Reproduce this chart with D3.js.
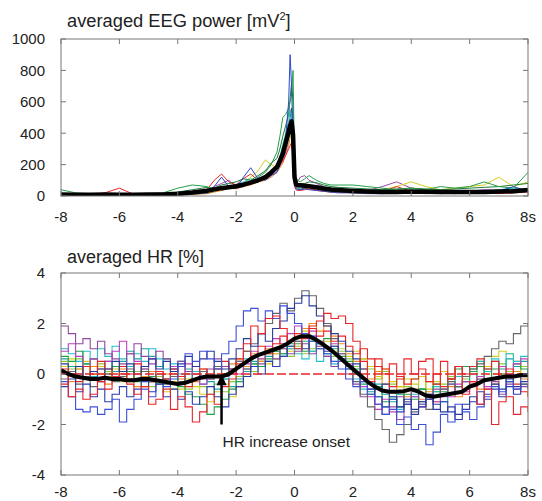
<!DOCTYPE html>
<html>
<head>
<meta charset="utf-8">
<script src="https://cdn.jsdelivr.net/npm/d3@7"></script>
<style>
  body { margin: 0; background: #fff; }
  svg { display: block; font-family: "Liberation Sans", Arial, Helvetica, sans-serif; }
</style>
</head>
<body>
<svg id="chart" width="542" height="501"></svg>
<script>
// ---------- top panel: averaged EEG power [mV^2] ----------
// sample times (s), denser around the spike
const eegTimes = [
  -8, -7.5, -7, -6.5, -6, -5.5, -5, -4.5, -4, -3.5,
  -3, -2.75, -2.5, -2.25, -2, -1.75, -1.5, -1.25, -1, -0.8,
  -0.6, -0.5, -0.4, -0.3, -0.2, -0.15, -0.1, -0.05, 0, 0.05,
  0.1, 0.2, 0.35, 0.5, 0.75, 1, 1.25, 1.5, 2, 2.5,
  3, 3.5, 4, 4.5, 5, 5.5, 6, 6.5, 7, 7.5,
  8
];
const eegMean = [
  10, 8, 8, 9, 8, 8, 9, 10, 14, 22,
  34, 42, 50, 56, 62, 72, 85, 100, 120, 150,
  185, 225, 270, 340, 410, 450, 475, 390, 120, 75,
  70, 68, 65, 62, 56, 48, 42, 38, 32, 28,
  26, 26, 28, 27, 25, 26, 25, 26, 28, 30,
  38
];
const eegBlue = [
  5, 6, 5, 6, 5, 6, 5, 8, 10, 15,
  20, 60, 120, 60, 50, 120, 180, 110, 100, 130,
  150, 200, 280, 380, 600, 900, 700, 350, 80, 50,
  40, 40, 45, 40, 35, 30, 25, 20, 20, 15,
  15, 20, 20, 15, 20, 15, 20, 20, 30, 60,
  30
];
const eegGreen = [
  40, 20, 15, 10, 8, 10, 15, 20, 50, 70,
  60, 40, 50, 60, 70, 60, 90, 120, 150, 200,
  280, 380, 500, 520, 560, 600, 650, 800, 200, 120,
  100, 90, 110, 130, 100, 80, 70, 70, 70, 60,
  50, 40, 50, 40, 60, 50, 60, 90, 60, 50,
  150
];
const eegRed = [
  5, 8, 6, 20, 50, 10, 6, 8, 10, 20,
  40, 100, 140, 90, 70, 110, 140, 100, 120, 150,
  180, 200, 220, 260, 300, 320, 340, 250, 60, 40,
  35, 35, 40, 45, 40, 30, 25, 25, 20, 20,
  25, 60, 30, 20, 15, 20, 15, 20, 15, 20,
  25
];
const eegYellow = [
  5, 5, 6, 5, 5, 6, 5, 6, 8, 12,
  20, 30, 40, 50, 60, 80, 120, 160, 230, 200,
  180, 220, 260, 300, 350, 380, 400, 300, 80, 60,
  55, 50, 55, 60, 50, 40, 35, 30, 30, 35,
  40, 60, 90, 60, 40, 50, 60, 70, 120, 60,
  90
];
const eegPurple = [
  6, 5, 6, 5, 6, 5, 6, 8, 10, 15,
  25, 60, 80, 100, 60, 70, 90, 100, 110, 130,
  160, 190, 230, 280, 350, 420, 480, 400, 100, 70,
  90, 120, 130, 100, 80, 60, 40, 35, 30, 35,
  60, 90, 50, 40, 30, 35, 30, 40, 35, 30,
  35
];
const eegCyan = [
  8, 6, 5, 6, 5, 6, 8, 10, 12, 20,
  30, 40, 60, 50, 70, 90, 110, 90, 120, 160,
  200, 250, 330, 400, 480, 550, 500, 300, 90, 60,
  55, 50, 60, 70, 60, 45, 40, 35, 30, 30,
  25, 30, 35, 30, 25, 30, 25, 30, 40, 50,
  40
];
const eegOrange = [
  5, 6, 5, 6, 5, 6, 5, 6, 8, 10,
  15, 25, 35, 50, 45, 60, 70, 90, 100, 120,
  150, 180, 210, 260, 320, 380, 420, 330, 70, 45,
  40, 40, 50, 45, 35, 30, 25, 25, 25, 25,
  20, 25, 30, 25, 20, 25, 20, 25, 30, 35,
  30
];
const eegNavy = [
  6, 5, 6, 5, 6, 5, 6, 6, 8, 12,
  18, 30, 45, 55, 50, 65, 85, 100, 110, 140,
  170, 200, 250, 320, 420, 500, 560, 400, 90, 55,
  50, 45, 50, 55, 45, 35, 30, 30, 25, 25,
  20, 25, 25, 20, 20, 25, 20, 25, 30, 40,
  35
];
const eegDarkGreen = [
  10, 8, 12, 10, 8, 10, 12, 15, 25, 40,
  55, 50, 70, 80, 90, 110, 100, 130, 160, 210,
  240, 300, 380, 450, 520, 620, 720, 600, 150, 90,
  80, 75, 80, 90, 85, 70, 60, 55, 50, 45,
  40, 45, 50, 45, 40, 45, 50, 55, 60, 70,
  80
];
const eegTraces = [eegOrange, eegNavy, eegPurple, eegYellow, eegRed, eegCyan, eegDarkGreen, eegGreen, eegBlue];
const eegColors = ["#f08a24", "#283c9c", "#a048a8", "#d4cc20", "#e8262a", "#26c0c8", "#1e7a3a", "#24a048", "#2a48c8"];
const eegTicks = [0, 200, 400, 600, 800, 1000];

// ---------- bottom panel: averaged HR [%] ----------
const hrTimes = [
  -8, -7.75, -7.5, -7.25, -7, -6.75, -6.5, -6.25,
  -6, -5.75, -5.5, -5.25, -5, -4.75, -4.5, -4.25,
  -4, -3.75, -3.5, -3.25, -3, -2.75, -2.5, -2.25,
  -2, -1.75, -1.5, -1.25, -1, -0.75, -0.5, -0.25,
  0, 0.25, 0.5, 0.75, 1, 1.25, 1.5, 1.75,
  2, 2.25, 2.5, 2.75, 3, 3.25, 3.5, 3.75,
  4, 4.25, 4.5, 4.75, 5, 5.25, 5.5, 5.75,
  6, 6.25, 6.5, 6.75, 7, 7.25, 7.5, 7.75,
  8
];
const hrMean = [
  0.15, 0.0, -0.1, -0.15, -0.2, -0.2, -0.15, -0.2,
  -0.2, -0.25, -0.25, -0.2, -0.2, -0.25, -0.3, -0.35,
  -0.4, -0.35, -0.25, -0.15, -0.1, -0.1, -0.1, 0.0,
  0.2, 0.4, 0.6, 0.75, 0.85, 0.95, 1.05, 1.2,
  1.4, 1.5, 1.5, 1.35, 1.15, 0.95, 0.7, 0.45,
  0.2, -0.05, -0.3, -0.5, -0.65, -0.7, -0.7, -0.68,
  -0.6, -0.7, -0.85, -0.9, -0.85, -0.8, -0.75, -0.7,
  -0.5, -0.4, -0.25, -0.2, -0.15, -0.1, -0.1, -0.05,
  -0.05
];
const hrRed = [
  0.2, -0.9, -0.6, -1.0, -0.8, -0.3, -0.6, -0.2,
  0.0, -0.4, -0.8, -0.5, -1.2, -1.0, -0.6, -1.4,
  -0.9, -1.3, -1.9, -1.5, -0.8, -1.2, -0.5, -0.2,
  0.4, 1.2, 1.9, 1.6, 2.2, 2.3, 1.8, 1.3,
  1.0, 1.5, 1.9, 2.1, 2.4, 2.2, 2.3, 2.0,
  1.3, 0.5, -0.3, 0.6, 0.2, -0.5, -0.2, 0.6,
  0.0, 0.5, 0.6, -0.4, 0.5, -0.2, 0.3, -0.8,
  -0.3, -1.2, -0.6, -2.0, -1.1, -0.9, -1.6, -1.3,
  -1.5
];
const hrRed2 = [
  -0.4, 0.0, -0.3, 0.3, 0.0, 0.5, 0.2, -0.1,
  0.3, 0.0, 0.4, 0.1, -0.3, 0.1, -0.2, 0.2,
  -0.1, -0.5, -0.2, 0.2, -0.1, 0.2, 0.5, 0.2,
  0.6, 0.9, 0.7, 1.1, 0.8, 1.2, 1.5, 1.3,
  1.6, 1.4, 1.8, 1.5, 1.7, 1.3, 1.5, 1.1,
  0.8, 1.0, 0.6, 0.3, 0.0, 0.4, -0.1, -0.4,
  -0.2, 0.2, -0.3, 0.0, -0.5, -0.2, 0.3, 0.0,
  0.3, 0.6, 0.2, 0.5, -0.1, 0.2, -0.4, -0.7,
  -0.9
];
const hrGreen = [
  0.7, 0.5, 0.9, 0.4, 0.6, 0.2, 0.0, 0.3,
  -0.2, 0.1, -0.3, 0.2, -0.1, -0.4, -0.2, 0.0,
  -0.5, -0.8, -0.9, -1.2, -1.6, -1.3, -1.0, -0.6,
  -0.3, 0.2, 0.4, 0.3, 0.6, 0.9, 0.8, 1.1,
  1.2, 0.9, 1.3, 1.0, 1.4, 1.1, 0.7, 0.5,
  0.2, -0.4, -0.8, -0.5, -1.1, -0.9, -1.3, -0.8,
  -1.0, -0.6, -0.9, -0.4, -0.7, -0.2, 0.2, 0.3,
  0.1, 0.3, -0.2, 0.2, 0.0, -0.3, 0.4, 0.2,
  0.0
];
const hrBlue = [
  -0.3, -0.9, -1.4, -1.5, -1.3, -1.6, -1.4, -1.0,
  -1.9, -1.4, -1.0, -0.6, -0.9, -0.3, -0.5, -0.2,
  0.3, 0.8, 0.5, 0.9, 0.6, 0.2, 0.8, 1.3,
  1.9, 2.5, 2.6, 2.1, 2.5, 2.2, 2.7, 2.4,
  2.0, 1.6, 1.3, 1.0, 0.8, 0.5, 0.2, -0.2,
  -0.5, -0.3, -0.8, -1.2, -1.6, -1.4, -2.0, -1.7,
  -2.2, -2.0, -2.8, -2.3, -1.6, -1.9, -1.2, -1.5,
  -1.8, -1.3, -0.9, -0.5, -0.7, -0.3, -0.6, 0.0,
  0.2
];
const hrBlue2 = [
  -0.5, -0.2, -0.7, -0.4, -0.9, -0.6, -1.1, -0.8,
  -0.5, -0.9, -0.6, -0.3, -0.7, -0.4, -0.9, -0.6,
  -1.0, -0.7, -1.2, -0.9, -0.5, -0.9, -1.3, -0.8,
  -0.5, -0.1, 0.3, 0.0, 0.5, 0.3, 0.7, 1.1,
  1.3, 1.0, 1.5, 1.2, 0.9, 1.1, 0.6, 0.2,
  0.4, -0.2, -0.6, -0.9, -1.3, -1.0, -1.5, -1.2,
  -1.6, -1.3, -1.0, -1.4, -1.1, -1.5, -1.8, -1.4,
  -1.1, -0.7, -1.0, -0.6, -0.9, -0.5, -0.8, -0.4,
  -0.6
];
const hrPurple = [
  1.9, 1.6, 1.2, 1.4, 1.0, 1.3, 0.8, 0.6,
  0.4, 0.8, 1.2, 0.7, 0.4, 0.9, 0.6, 0.2,
  0.5, 0.1, 0.3, -0.2, 0.2, 0.6, 0.3, 0.0,
  0.5, 0.2, 0.7, 0.4, 0.9, 0.6, 1.0, 0.8,
  0.9, 1.2, 0.8, 1.1, 0.7, 0.3, 0.5, 0.0,
  -0.4, -0.9, -0.6, -1.2, -1.6, -1.3, -0.9, -1.1,
  -0.7, -1.2, -1.0, -0.6, -0.9, -0.4, -0.7, -0.3,
  -0.5, -0.2, -0.6, -0.3, -0.8, -0.4, -0.6, -0.5,
  -0.5
];
const hrMagenta = [
  0.9, 1.2, 0.7, 0.3, 0.6, 0.2, 0.5, 0.9,
  1.3, 0.8, 0.5, 0.2, 0.6, 0.1, -0.2, 0.3,
  -0.1, 0.4, 0.0, -0.4, -0.2, 0.3, -0.1, 0.2,
  0.0, 0.4, 0.9, 0.6, 1.1, 1.4, 1.2, 1.6,
  1.9, 1.5, 1.7, 1.3, 1.0, 1.2, 0.8, 0.4,
  0.1, -0.5, -0.9, -1.4, -1.0, -1.5, -1.8, -1.2,
  -0.9, -1.3, -0.8, -1.1, -0.6, -0.9, -0.4, -0.7,
  -0.4, -0.1, -0.5, -0.2, 0.3, 0.0, 0.4, 0.6,
  0.3
];
const hrCyan = [
  1.0, 0.8, 0.5, 0.9, 0.6, 1.0, 0.7, 1.1,
  0.6, 0.3, 0.8, 0.5, 1.0, 0.6, 0.2, 0.4,
  0.0, -0.3, 0.1, -0.4, -0.1, 0.2, -0.2, 0.1,
  0.3, 0.6, 0.4, 0.8, 0.5, 0.9, 0.7, 1.0,
  0.8, 0.6, 0.9, 0.5, 0.7, 0.4, 0.6, 0.2,
  -0.2, -0.6, -0.4, -0.9, -1.3, -1.0, -1.4, -1.1,
  -0.8, -1.2, -0.9, -0.5, -0.8, -0.4, -0.1, 0.3,
  0.2, 0.5, 0.1, 0.6, 0.3, 0.8, 0.5, 0.7,
  0.7
];
const hrTeal = [
  0.6, 0.3, 0.0, 0.4, -0.1, 0.2, 0.5, 0.1,
  0.5, 0.9, 0.6, 1.0, 0.7, 0.3, 0.6, 0.2,
  0.5, 0.2, -0.2, 0.1, -0.3, -0.6, -0.2, -0.5,
  -0.2, 0.1, 0.5, 0.3, 0.7, 1.0, 0.8, 1.2,
  1.0, 1.3, 0.9, 1.2, 0.8, 1.0, 0.5, 0.3,
  0.0, -0.3, -0.7, -0.4, -0.8, -1.1, -0.8, -1.2,
  -0.9, -0.6, -1.0, -0.7, -1.1, -0.8, -0.5, -0.3,
  0.0, -0.3, 0.2, 0.5, 0.2, 0.6, 0.3, 0.5,
  0.4
];
const hrYellow = [
  0.3, 0.6, 0.2, 0.5, 0.0, 0.3, -0.1, 0.2,
  -0.3, 0.1, -0.2, -0.5, -0.1, -0.4, -0.7, -0.3,
  -0.6, -0.2, -0.5, -0.8, -1.1, -0.7, -0.4, -0.9,
  -0.5, -0.1, 0.3, 0.6, 0.4, 0.8, 1.1, 0.9,
  1.3, 1.7, 1.4, 1.1, 1.3, 0.9, 1.0, 0.7,
  0.9, 0.6, 0.3, -0.1, 0.2, -0.3, -0.5, -0.2,
  -0.4, -0.1, -0.6, -0.3, 0.1, -0.2, 0.3, -0.1,
  0.2, 0.5, 0.3, 0.7, 0.9, 0.8, 0.5, -0.4,
  -0.9
];
const hrOrange = [
  0.1, -0.3, 0.2, -0.1, 0.3, 0.0, -0.4, -0.1,
  0.2, -0.2, -0.5, -0.1, 0.1, -0.3, 0.0, -0.4,
  -0.2, 0.1, -0.3, 0.2, -0.1, 0.3, 0.0, 0.4,
  0.6, 0.3, 0.8, 0.5, 1.0, 0.8, 1.2, 1.0,
  1.5, 1.8, 2.0, 1.7, 1.9, 1.5, 1.2, 0.8,
  0.5, 0.2, -0.2, 0.1, -0.4, -0.7, -0.5, -0.9,
  -0.6, -1.0, -0.7, -1.1, -0.8, -0.5, -0.9, -0.6,
  -0.3, -0.6, -0.2, -0.4, 0.0, -0.3, 0.1, -0.2,
  0.0
];
const hrGray = [
  -0.2, 0.1, -0.4, -0.1, -0.5, -0.2, 0.0, -0.3,
  -0.1, 0.2, -0.2, 0.1, -0.3, 0.0, -0.4, -0.1,
  -0.3, 0.0, -0.2, 0.1, -0.2, 0.3, 0.0, 0.2,
  0.5, 0.9, 1.2, 1.6, 2.0, 2.4, 2.8, 2.5,
  3.0, 3.3, 3.1, 2.6, 2.0, 1.4, 0.8, 0.3,
  -0.3, -0.8, -1.3, -1.8, -2.2, -2.7, -2.4, -2.0,
  -1.5, -1.1, -1.4, -0.9, -0.6, -0.3, -0.5, -0.1,
  0.2, 0.4, 0.7, 1.0, 1.3, 1.2, 1.6, 1.9,
  2.0
];
const hrNavy = [
  0.4, 0.0, 0.3, -0.2, 0.1, -0.3, 0.2, 0.5,
  0.1, 0.4, 0.0, 0.3, 0.6, 0.2, 0.5, 0.1,
  0.4, 0.7, 0.3, 0.6, 0.9, 0.5, 0.2, 0.6,
  1.0, 1.4, 1.1, 1.6, 1.3, 1.8, 2.1, 2.6,
  2.8, 3.1, 2.7, 2.3, 1.9, 1.6, 1.3, 0.9,
  0.6, 0.2, -0.3, -0.6, -0.4, -0.9, -1.3, -1.0,
  -1.4, -1.1, -0.8, -1.2, -1.5, -1.3, -1.6, -1.2,
  -0.9, -1.2, -0.8, -0.4, -0.6, -0.2, -0.5, -0.3,
  -0.2
];
const hrLime = [
  0.5, 0.2, 0.6, 0.3, 0.0, 0.4, 0.1, -0.2,
  0.0, -0.3, 0.1, -0.2, -0.5, -0.1, -0.3, -0.6,
  -0.3, -0.6, -0.2, -0.5, -0.8, -0.4, -0.7, -0.3,
  -0.1, 0.3, 0.1, 0.5, 0.8, 0.6, 1.0, 0.7,
  1.1, 0.8, 1.0, 1.3, 1.0, 0.7, 0.9, 0.6,
  0.3, 0.6, 0.2, -0.2, 0.1, -0.4, -0.1, -0.5,
  -0.2, -0.6, -0.3, -0.7, -0.4, -0.1, -0.5, -0.2,
  0.1, -0.2, 0.3, 0.0, 0.4, 0.1, -0.1, 0.3,
  0.2
];
const hrTraces = [hrLime, hrTeal, hrOrange, hrYellow, hrCyan, hrGreen, hrMagenta, hrPurple,
  hrRed2, hrGray, hrBlue2, hrNavy, hrBlue, hrRed];
const hrColors = ["#8cc83c", "#1aa4a0", "#f08a24", "#d4cc20", "#26c0c8", "#24a048", "#c040c0", "#9048a0",
  "#e8262a", "#666666", "#303cb0", "#283c9c", "#3c50d8", "#e8262a"];
const hrTicks = [-4, -2, 0, 2, 4];

// shared time axis
const timeTicks = [-8, -6, -4, -2, 0, 2, 4, 6, 8];
const timeLabels = ["-8", "-6", "-4", "-2", "0", "2", "4", "6", "8s"];
const onsetTime = -2.5;

// ---------- drawing ----------
const svg = d3.select("#chart");
svg.append("rect").attr("width", 542).attr("height", 501).attr("fill", "#fff");

const left = 61, right = 528, tickLen = 5;

function panel(id, y0, y1, yDomain, yTicks, xLabelY) {
  const x = d3.scaleLinear().domain([-8, 8]).range([left, right]);
  const y = d3.scaleLinear().domain(yDomain).range([y1, y0]);
  const g = svg.append("g");

  svg.append("clipPath").attr("id", id)
    .append("rect")
    .attr("x", left).attr("y", y0)
    .attr("width", right - left).attr("height", y1 - y0);

  const plot = g.append("g").attr("clip-path", `url(#${id})`);

  const frame = g.append("g").attr("stroke", "#777").attr("stroke-width", 1).attr("fill", "none");
  frame.append("rect")
    .attr("x", left).attr("y", y0)
    .attr("width", right - left).attr("height", y1 - y0);

  // inward ticks on all four sides (gnuplot style)
  timeTicks.forEach((t) => {
    frame.append("line").attr("x1", x(t)).attr("x2", x(t)).attr("y1", y1).attr("y2", y1 - tickLen);
    frame.append("line").attr("x1", x(t)).attr("x2", x(t)).attr("y1", y0).attr("y2", y0 + tickLen);
  });
  yTicks.forEach((v) => {
    frame.append("line").attr("x1", left).attr("x2", left + tickLen).attr("y1", y(v)).attr("y2", y(v));
    frame.append("line").attr("x1", right).attr("x2", right - tickLen).attr("y1", y(v)).attr("y2", y(v));
  });

  g.append("g")
    .attr("font-size", 15).attr("fill", "#222").attr("text-anchor", "end")
    .selectAll("text").data(yTicks).join("text")
    .attr("x", left - 16).attr("y", (d) => y(d)).attr("dy", "0.36em")
    .text((d) => d);

  g.append("g")
    .attr("font-size", 15).attr("fill", "#222").attr("text-anchor", "middle")
    .selectAll("text").data(timeTicks).join("text")
    .attr("x", (d) => x(d)).attr("y", xLabelY)
    .text((d, i) => timeLabels[i]);

  return { x, y, plot };
}

// top panel
const eegPanel = panel("clipEEG", 39, 196, [0, 1000], eegTicks, 222);

svg.append("text")
  .attr("x", 67).attr("y", 27).attr("font-size", 18.3).attr("fill", "#222")
  .text("averaged EEG power [mV")
  .call((t) => t.append("tspan").attr("dy", -7).attr("font-size", 11).text("2"))
  .call((t) => t.append("tspan").attr("dy", 7).text("]"));

const eegLine = d3.line()
  .x((d, i) => eegPanel.x(eegTimes[i]))
  .y((d) => eegPanel.y(d));

eegPanel.plot.selectAll("path.trace")
  .data(eegTraces)
  .join("path")
  .attr("class", "trace")
  .attr("fill", "none")
  .attr("stroke", (d, i) => eegColors[i])
  .attr("stroke-width", 1)
  .attr("d", eegLine);

eegPanel.plot.append("path")
  .datum(eegMean)
  .attr("fill", "none")
  .attr("stroke", "#000")
  .attr("stroke-width", 4.5)
  .attr("stroke-linejoin", "round")
  .attr("d", eegLine);

// bottom panel
const hrPanel = panel("clipHR", 273, 475, [-4, 4], hrTicks, 497);

svg.append("text")
  .attr("x", 67).attr("y", 263).attr("font-size", 18).attr("fill", "#222")
  .text("averaged HR [%]");

const hrLine = d3.line()
  .x((d, i) => hrPanel.x(hrTimes[i]))
  .y((d) => hrPanel.y(d))
  .curve(d3.curveStepAfter);

hrPanel.plot.selectAll("path.trace")
  .data(hrTraces)
  .join("path")
  .attr("class", "trace")
  .attr("fill", "none")
  .attr("stroke", (d, i) => hrColors[i])
  .attr("stroke-width", 1.1)
  .attr("d", hrLine);

// zero reference line
hrPanel.plot.append("line")
  .attr("x1", hrPanel.x(-8)).attr("x2", hrPanel.x(8))
  .attr("y1", hrPanel.y(0)).attr("y2", hrPanel.y(0))
  .attr("stroke", "#e8262a").attr("stroke-width", 1.3)
  .attr("stroke-dasharray", "9,3");

hrPanel.plot.append("path")
  .datum(hrMean)
  .attr("fill", "none")
  .attr("stroke", "#000")
  .attr("stroke-width", 4)
  .attr("stroke-linejoin", "round")
  .attr("d", d3.line().x((d, i) => hrPanel.x(hrTimes[i])).y((d) => hrPanel.y(d)));

// onset arrow
const ax = hrPanel.x(onsetTime);
svg.append("line")
  .attr("x1", ax).attr("x2", ax)
  .attr("y1", hrPanel.y(-2)).attr("y2", hrPanel.y(-0.3))
  .attr("stroke", "#000").attr("stroke-width", 2.5);
svg.append("path")
  .attr("d", `M${ax},${hrPanel.y(0)} L${ax - 5},${hrPanel.y(-0.45)} L${ax + 5},${hrPanel.y(-0.45)} Z`)
  .attr("fill", "#000");

svg.append("text")
  .attr("x", ax + 1).attr("y", 447).attr("font-size", 15.5).attr("fill", "#222")
  .text("HR increase onset");
</script>
</body>
</html>
